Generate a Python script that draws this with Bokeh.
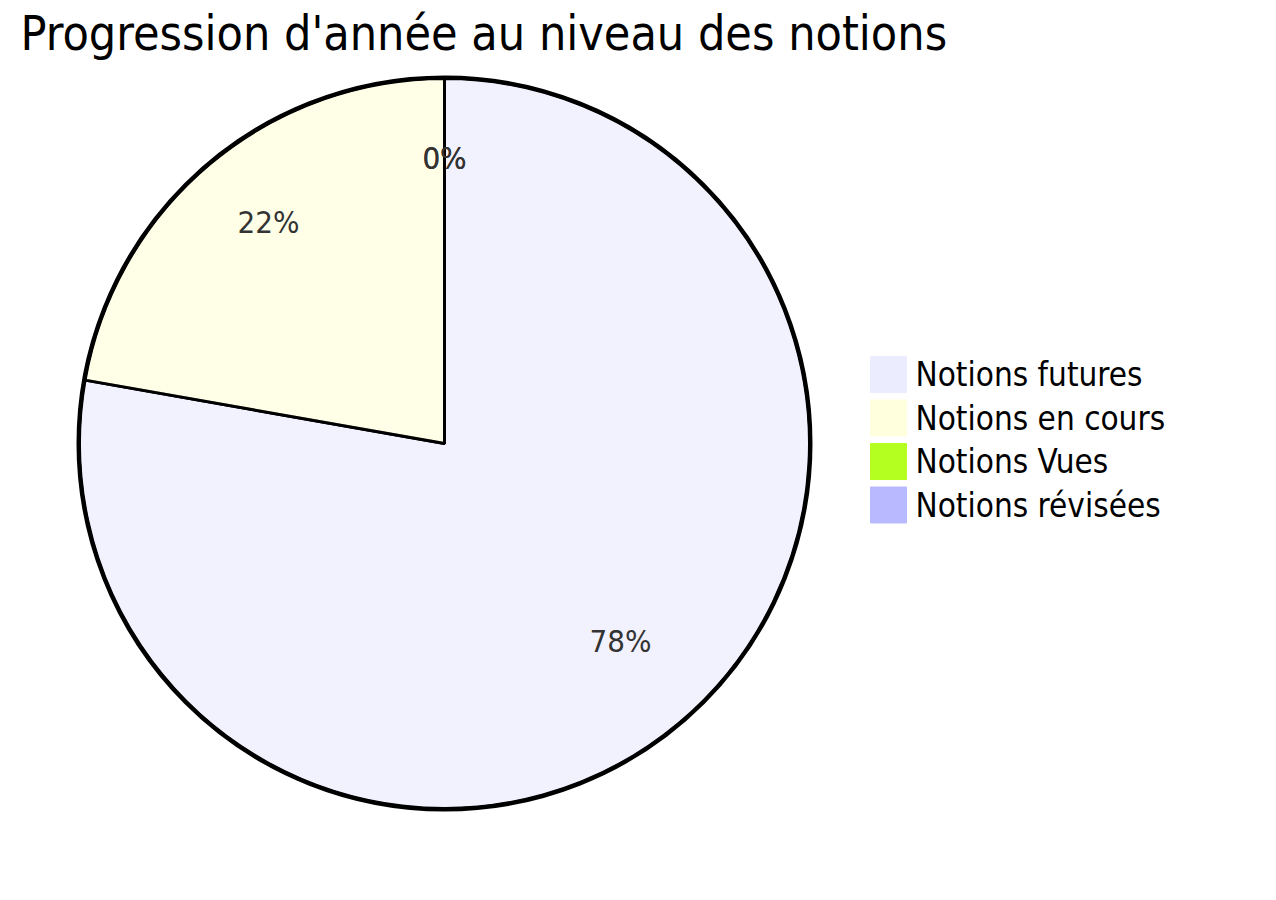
import math
from bokeh.plotting import figure
from bokeh.models import Range1d, ColumnDataSource
from bokeh.core.properties import value
from bokeh.embed import file_html
from bokeh.resources import INLINE

# ---- data ----
title_text = "Progression d'année au niveau des notions"
categories = ["Notions futures", "Notions en cours", "Notions Vues", "Notions révisées"]
counts = [7, 2, 0, 0]
slice_colors = ["#ECECFF", "#FFFFDE", "#B5FF20", "#B9B9FF"]

FONT = "DejaVu Sans Condensed"
W, H = 1260, 884

p = figure(width=W, height=H, output_backend="svg", toolbar_location=None,
           x_range=Range1d(0, W), y_range=Range1d(0, H),
           min_border=0, outline_line_color=None)
p.axis.visible = False
p.grid.visible = False
p.background_fill_color = "white"
p.border_fill_color = "white"

def px(x):
    return x

def py(y):
    return H - y

cx, cy, R = px(444), py(443), 365

total = sum(counts)
fracs = [c / total for c in counts]
starts, ends, mids, labels = [], [], [], []
acc = 0.0
for f in fracs:
    a0 = math.pi / 2 - 2 * math.pi * acc
    a1 = math.pi / 2 - 2 * math.pi * (acc + f)
    starts.append(a0)
    ends.append(a1)
    mids.append((a0 + a1) / 2)
    labels.append(f"{round(f * 100)}%")
    acc += f

nz = [i for i, c in enumerate(counts) if c > 0]
wsrc = ColumnDataSource(dict(
    start=[starts[i] for i in nz], end=[ends[i] for i in nz],
    color=[slice_colors[i] for i in nz]))
p.wedge(x=cx, y=cy, radius=R, start_angle="start", end_angle="end",
        direction="clock", fill_color="color", fill_alpha=0.7,
        line_color="black", line_width=3, source=wsrc)
p.circle(x=cx, y=cy, radius=R + 1, fill_color=None, line_color="black", line_width=4)

lr = R * 0.75
lsrc = ColumnDataSource(dict(
    x=[cx + lr * math.cos(m) for m in mids],
    y=[cy + lr * math.sin(m) for m in mids],
    t=labels))
p.text(x="x", y="y", text="t", source=lsrc, text_align="center",
       text_baseline="middle", text_color="#333333", y_offset=-12,
       text_font=value(FONT), text_font_size="31px")

# legend
n = len(categories)
lx, ly0, step, sq = px(870), 356, 43.5, 36
leg = ColumnDataSource(dict(
    x=[lx + sq / 2] * n,
    y=[py(ly0 + i * step + sq / 2) for i in range(n)],
    color=slice_colors,
    tx=[px(915)] * n,
    t=categories))
p.rect(x="x", y="y", width=sq, height=sq, fill_color="color",
       line_color="color", source=leg)
p.text(x="tx", y="y", text="t", source=leg, text_align="left",
       text_baseline="middle", text_color="black",
       text_font=value(FONT), text_font_size="33px")

# title
p.text(x=[px(20)], y=[py(32)], text=[title_text], text_align="left",
       text_baseline="middle", text_color="black",
       text_font=value(FONT), text_font_size="48px")

open("out.html", "w").write(file_html(p, INLINE))
